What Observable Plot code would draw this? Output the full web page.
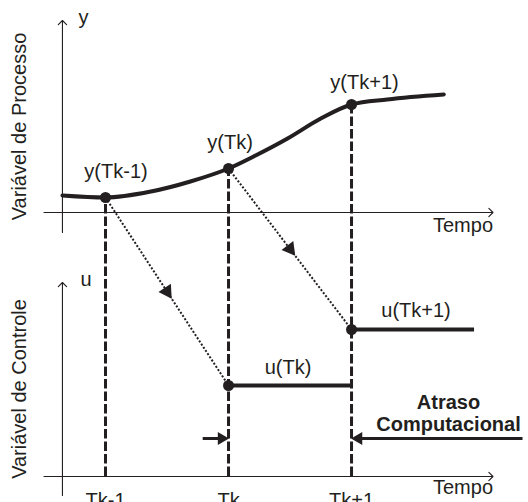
<!DOCTYPE html>
<html><head><meta charset="utf-8">
<script src="https://cdn.jsdelivr.net/npm/d3@7"></script>
<script src="https://cdn.jsdelivr.net/npm/@observablehq/plot@0.6"></script>
<style>body{margin:0;background:#fff}</style>
</head><body><div id="chart"></div>
<script>
// ---- data ----
// sampling instants (in units of the sampling period)
const instants = [1, 2, 3];
const instantLabels = ["Tk-1", "Tk", "Tk+1"];
// continuous process variable y(t)
const curveT = [0.65, 1, 1.37, 1.69, 2, 2.22, 2.48, 2.75, 3, 3.29, 3.75];
const curveY = [1.7, 1.5, 2.1, 3.1, 4.4, 5.7, 7.4, 9.4, 10.8, 11.3, 11.8];
// sampled process values
const ySamples = [1.5, 4.4, 10.8];
const ySampleLabels = ["y(Tk-1)", "y(Tk)", "y(Tk+1)"];
// held control values
const uStart = [2, 3];
const uEnd = [3, 4.0];
const uValues = [9.1, 14.7];
const uLabels = ["u(Tk)", "u(Tk+1)"];
// computational delay annotation
const delayLevel = 3.8;
const delayLabel = "Atraso\nComputacional";
const axisTitles = ["Variável de Processo", "Variável de Controle"];
const varLabels = ["y", "u"];
const timeLabel = "Tempo";

// ---- layout ----
const W = 528, H = 502;
const OFF = 26.4;               // vertical offset of the upper panel
const xDom = [0.5, 4.15], yDom = [-2.6, 47.6];
const mL = 43.5, mR = 35.5;
const kx = (W - mL - mR) / (xDom[1] - xDom[0]);
const ky = H / (yDom[1] - yDom[0]);
const axisX = 0.65;
const ink = "#231f20";
const heading = (dt, dv) => Math.atan2(dt * kx, dv * ky) * 180 / Math.PI;

const axes = [
  {x1: axisX, y1: -2 + OFF, x2: axisX, y2: 19.2 + OFF},
  {x1: axisX, y1: -1.9, x2: axisX, y2: 19.4},
  {x1: xDom[0], y1: OFF, x2: xDom[1], y2: OFF},
  {x1: xDom[0], y1: 0, x2: xDom[1], y2: 0}
];

const transfers = [0, 1].map(i => ({
  x1: instants[i], y1: ySamples[i] + OFF, x2: instants[i + 1], y2: uValues[i]
}));
const mids = transfers.map(d => ({
  x: (d.x1 + d.x2) / 2, y: (d.y1 + d.y2) / 2, r: heading(d.x2 - d.x1, d.y2 - d.y1)
}));

const delayArrows = [
  {x1: 1.79, x2: instants[1], dir: 90, dx: -7},
  {x1: 4.39, x2: instants[2], dir: -90, dx: 7}
];

const marks = [];
// axes
marks.push(Plot.arrow(axes, {x1: "x1", y1: "y1", x2: "x2", y2: "y2", stroke: ink, strokeWidth: 1.1, headLength: 8, headAngle: 90}));
// dashed sampling lines
marks.push(Plot.ruleX(instants, {x: d => d, y1: 0, y2: (d, i) => ySamples[i] + OFF, stroke: ink, strokeWidth: 3, strokeDasharray: "9.5,3"}));
// process curve
marks.push(Plot.line(curveT, {x: d => d, y: (d, i) => curveY[i] + OFF, curve: "monotone-x", stroke: ink, strokeWidth: 4}));
// held control segments
marks.push(Plot.ruleY(uValues, {y: d => d, x1: (d, i) => uStart[i], x2: (d, i) => uEnd[i], stroke: ink, strokeWidth: 4}));
// dotted transfer lines
marks.push(Plot.link(transfers, {x1: "x1", y1: "y1", x2: "x2", y2: "y2", stroke: ink, strokeWidth: 2, strokeDasharray: "2,1.8"}));
marks.push(Plot.dot(mids, {x: "x", y: "y", rotate: "r", symbol: "triangle", r: 5.5, fill: ink, stroke: "none"}));
// sample points
marks.push(Plot.dot(instants, {x: d => d, y: (d, i) => ySamples[i] + OFF, r: 5.5, fill: ink, stroke: "none"}));
marks.push(Plot.dot(uValues, {x: (d, i) => uStart[i], y: d => d, r: 5.5, fill: ink, stroke: "none"}));
// delay arrows
marks.push(Plot.link(delayArrows, {x1: "x1", x2: d => d.x2 + (d.dir > 0 ? -0.05 : 0.05), y1: delayLevel, y2: delayLevel, stroke: ink, strokeWidth: 3}));
delayArrows.forEach(d => marks.push(Plot.dot([d], {x: "x2", y: delayLevel, rotate: d.dir, dx: d.dx, symbol: "triangle", r: 4.8, fill: ink, stroke: "none"})));

// text
const fnt = {fontSize: 20, fill: ink, stroke: "none"};
const yLabOff = [[10.5, -20], [1.5, -20], [13, -16]];
ySampleLabels.forEach((s, i) => marks.push(Plot.text([s], {x: instants[i], y: ySamples[i] + OFF, text: d => d, dx: yLabOff[i][0], dy: yLabOff[i][1], lineAnchor: "bottom", ...fnt})));
const uLabOff = [[-2, -12], [3, -13]];
uLabels.forEach((s, i) => marks.push(Plot.text([s], {x: (uStart[i] + uEnd[i]) / 2, y: uValues[i], text: d => d, dx: uLabOff[i][0], dy: uLabOff[i][1], lineAnchor: "bottom", ...fnt})));
marks.push(Plot.text([delayLabel], {x: instants[2], y: delayLevel, text: d => d, dx: 97, dy: -8, lineAnchor: "bottom", lineHeight: 1.1, fontWeight: "bold", ...fnt}));
marks.push(Plot.text(instantLabels, {x: (d, i) => instants[i], y: 0, text: d => d, dy: 30, lineAnchor: "bottom", ...fnt}));
marks.push(Plot.text([timeLabel], {x: xDom[1], y: OFF, text: d => d, dy: 19, textAnchor: "end", lineAnchor: "bottom", ...fnt}));
marks.push(Plot.text([timeLabel], {x: xDom[1], y: 0, text: d => d, dy: 17, textAnchor: "end", lineAnchor: "bottom", ...fnt}));
marks.push(Plot.text([varLabels[0]], {x: axisX, y: 19.2 + OFF, text: d => d, dx: 16, dy: 3, textAnchor: "start", lineAnchor: "bottom", ...fnt}));
marks.push(Plot.text([varLabels[1]], {x: axisX, y: 19.4, text: d => d, dx: 18, dy: 3, textAnchor: "start", lineAnchor: "bottom", ...fnt}));
marks.push(Plot.text([axisTitles[0]], {frameAnchor: "left", y: (-2 + 19.2) / 2 + OFF, text: d => d, rotate: -90, dx: -24.5, textAnchor: "middle", lineAnchor: "middle", ...fnt}));
marks.push(Plot.text([axisTitles[1]], {frameAnchor: "left", y: (-1.9 + 19.4) / 2, text: d => d, rotate: -90, dx: -24.5, textAnchor: "middle", lineAnchor: "middle", ...fnt}));

const chart = Plot.plot({
  width: W, height: H,
  marginLeft: mL, marginRight: mR, marginTop: 0, marginBottom: 0,
  x: {domain: xDom, axis: null},
  y: {domain: yDom, axis: null},
  style: {fontFamily: "'Liberation Sans', Arial, sans-serif", background: "white", overflow: "visible"},
  marks
});
document.getElementById("chart").appendChild(chart);
</script>
</body></html>
